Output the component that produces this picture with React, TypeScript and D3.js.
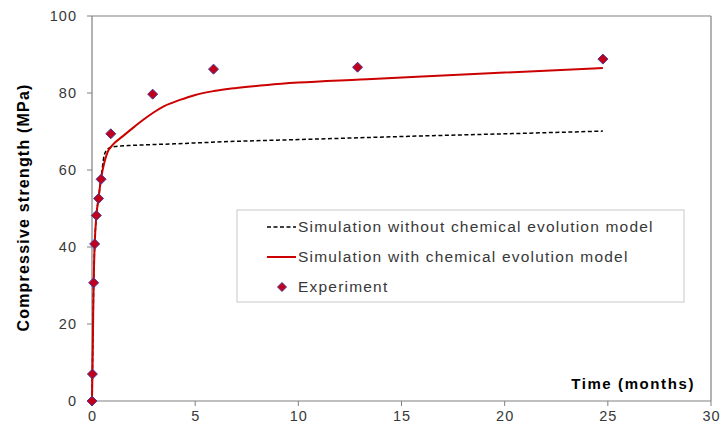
import React from "react";
import * as d3 from "d3";

// Experimental data (time in months, strength in MPa)
const expTime = [0, 0.02, 0.08, 0.13, 0.21, 0.32, 0.44, 0.91, 2.94, 5.89, 12.87, 24.76];
const expStrength = [0, 7.0, 30.7, 40.8, 48.2, 52.6, 57.6, 69.4, 79.7, 86.2, 86.7, 88.8];

// Simulation with chemical evolution model
const withTime = [0, 0.02, 0.05, 0.08, 0.13, 0.21, 0.32, 0.44, 0.6, 0.75, 1.0, 1.5, 2.0, 2.5, 3.0, 3.5, 4.26, 5.0, 5.9, 7.0, 8.5, 10, 13, 16, 20, 24.76];
const withStrength = [0, 7, 19, 30.5, 40.5, 48, 52.8, 57.8, 62, 64.6, 66.5, 68.8, 71, 73.1, 75, 76.6, 78.2, 79.5, 80.5, 81.3, 82.1, 82.7, 83.5, 84.3, 85.3, 86.5];

// Simulation without chemical evolution model
const withoutTime = [0, 0.02, 0.05, 0.08, 0.13, 0.21, 0.32, 0.44, 0.6, 0.8, 1.1, 2, 4, 6.7, 10, 15, 20, 24.76];
const withoutStrength = [0, 7, 19, 30.5, 40.5, 48, 52.8, 57.8, 64.0, 65.6, 66.1, 66.4, 66.8, 67.4, 67.9, 68.7, 69.4, 70.1];

const xTicks = [0, 5, 10, 15, 20, 25, 30];
const yTicks = [0, 20, 40, 60, 80, 100];

const legendLabels = [
  "Simulation without chemical evolution model",
  "Simulation with chemical evolution model",
  "Experiment",
];

const W = 720;
const H = 429;
const M = { left: 92, top: 16, right: 9, bottom: 28 };
const FONT = "'Liberation Sans', Arial, sans-serif";

export default function App() {
  const x = d3.scaleLinear().domain([0, 30]).range([M.left, W - M.right]);
  const y = d3.scaleLinear().domain([0, 100]).range([H - M.bottom, M.top]);

  const line = d3
    .line<[number, number]>()
    .x((d) => x(d[0]))
    .y((d) => y(d[1]))
    .curve(d3.curveMonotoneX);

  const withPath = line(withTime.map((t, i) => [t, withStrength[i]] as [number, number])) || "";
  const withoutPath = line(withoutTime.map((t, i) => [t, withoutStrength[i]] as [number, number])) || "";

  const diamond = (cx: number, cy: number, r: number) =>
    `M${cx},${cy - r}L${cx + r},${cy}L${cx},${cy + r}L${cx - r},${cy}Z`;

  const axisColor = "#808080";
  const labelColor = "#383838";

  const lg = { x: 237, y: 210, w: 447, h: 92 };

  return (
    <svg
      width={W}
      height={H}
      style={{ position: "absolute", left: 0, top: 0, background: "#fff" }}
      fontFamily={FONT}
    >
      {/* plot border top & right */}
      <line x1={x(0)} x2={x(30)} y1={y(100)} y2={y(100)} stroke={axisColor} strokeWidth={1.2} />
      <line x1={x(30)} x2={x(30)} y1={y(100)} y2={y(0)} stroke={axisColor} strokeWidth={1.2} />

      {/* y axis */}
      <line x1={x(0)} x2={x(0)} y1={y(0)} y2={y(100)} stroke={axisColor} strokeWidth={1.2} />
      {yTicks.map((v) => (
        <g key={"y" + v}>
          <line x1={x(0) - 5} x2={x(0)} y1={y(v)} y2={y(v)} stroke={axisColor} strokeWidth={1} />
          <text
            x={x(0) - 15}
            y={y(v)}
            dy="0.35em"
            textAnchor="end"
            fontSize={14.5}
            letterSpacing={1}
            fill={labelColor}
          >
            {v}
          </text>
        </g>
      ))}

      {/* x axis */}
      <line x1={x(0)} x2={x(30)} y1={y(0)} y2={y(0)} stroke={axisColor} strokeWidth={1.2} />
      {xTicks.map((v) => (
        <g key={"x" + v}>
          <line x1={x(v)} x2={x(v)} y1={y(0)} y2={y(0) + 5} stroke={axisColor} strokeWidth={1} />
          <text
            x={x(v) + 0.5}
            y={y(0) + 20}
            textAnchor="middle"
            fontSize={14.5}
            letterSpacing={1}
            fill={labelColor}
          >
            {v}
          </text>
        </g>
      ))}

      {/* axis titles */}
      <text
        transform={`translate(${29},${(y(0) + y(100)) / 2 - 1}) rotate(-90)`}
        textAnchor="middle"
        fontSize={16}
        fontWeight="bold"
        letterSpacing={1.2}
        fill="#000"
      >
        Compressive strength (MPa)
      </text>
      <text
        x={695}
        y={389}
        textAnchor="end"
        fontSize={15}
        fontWeight="bold"
        letterSpacing={1.6}
        fill="#000"
      >
        Time (months)
      </text>

      {/* series */}
      <path d={withoutPath} fill="none" stroke="#000" strokeWidth={1.5} strokeDasharray="4,2.5" />
      <path d={withPath} fill="none" stroke="#cc0000" strokeWidth={2} />
      {expTime.map((t, i) => (
        <path
          key={"e" + i}
          d={diamond(x(t), y(expStrength[i]), 5)}
          fill="#c0001c"
          stroke="#4a3a90"
          strokeWidth={1}
        />
      ))}

      {/* legend */}
      <rect x={lg.x} y={lg.y} width={lg.w} height={lg.h} fill="#fff" stroke="#c8c8c8" strokeWidth={1} />
      <line x1={267} x2={296} y1={227} y2={227} stroke="#000" strokeWidth={1.5} strokeDasharray="4,2.5" />
      <line x1={267} x2={296} y1={257} y2={257} stroke="#cc0000" strokeWidth={2} />
      <path d={diamond(282, 287, 4.5)} fill="#c0001c" stroke="#4a3a90" strokeWidth={1} />
      {legendLabels.map((s, i) => (
        <text
          key={"l" + i}
          x={298}
          y={227 + i * 30}
          dy="0.35em"
          fontSize={15.5}
          letterSpacing={1.2}
          fill={labelColor}
        >
          {s}
        </text>
      ))}
    </svg>
  );
}
